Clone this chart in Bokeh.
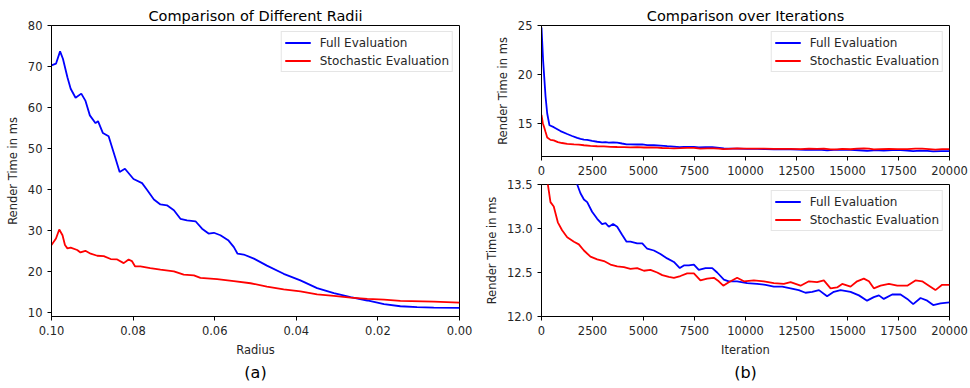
from bokeh.plotting import figure
from bokeh.models import Range1d, FixedTicker, PrintfTickFormatter, Title
from bokeh.layouts import row, column
from bokeh.embed import file_html
from bokeh.resources import INLINE

# ---------------- data ----------------
radius_full = [0.1000, 0.0989, 0.0979, 0.0972, 0.0961, 0.0953, 0.0941, 0.0927, 0.0917, 0.0906,
               0.0892, 0.0886, 0.0874, 0.0860, 0.0844, 0.0833, 0.0820, 0.0799, 0.0778, 0.0766,
               0.0749, 0.0733, 0.0717, 0.0700, 0.0684, 0.0668, 0.0647, 0.0631, 0.0615, 0.0602,
               0.0586, 0.0566, 0.0553, 0.0544, 0.0529, 0.0504, 0.0472, 0.0431, 0.0390, 0.0349,
               0.0308, 0.0267, 0.0226, 0.0185, 0.0145, 0.0104, 0.0063, 0.0]
time_radius_full = [70.3, 70.7, 73.7, 71.9, 67.4, 64.6, 62.4, 63.4, 61.7, 58.1,
                    56.2, 56.7, 53.8, 53.0, 47.9, 44.3, 45.1, 42.6, 41.6, 40.0,
                    37.6, 36.4, 36.2, 35.0, 32.9, 32.5, 32.3, 30.5, 29.3, 29.5,
                    28.9, 27.6, 26.0, 24.4, 24.2, 23.2, 21.5, 19.5, 17.9, 16.0,
                    14.8, 13.8, 13.0, 12.1, 11.6, 11.4, 11.25, 11.2]
radius_stoch = [0.1000, 0.0989, 0.0981, 0.0973, 0.0967, 0.0961, 0.0953, 0.0937, 0.0929, 0.0917,
                0.0904, 0.0888, 0.0872, 0.0855, 0.0839, 0.0823, 0.0811, 0.0803, 0.0795, 0.0782,
                0.0758, 0.0733, 0.0700, 0.0676, 0.0651, 0.0635, 0.0594, 0.0553, 0.0512, 0.0472,
                0.0431, 0.0390, 0.0349, 0.0308, 0.0267, 0.0226, 0.0185, 0.0145, 0.0063, 0.0]
time_radius_stoch = [26.5, 28.1, 30.3, 28.9, 26.5, 25.7, 25.9, 25.3, 24.7, 25.1,
                     24.4, 23.9, 23.8, 23.1, 23.0, 22.1, 23.0, 22.6, 21.3, 21.3,
                     20.9, 20.5, 20.1, 19.3, 19.1, 18.5, 18.2, 17.7, 17.2, 16.4,
                     15.7, 15.2, 14.5, 14.1, 13.7, 13.4, 13.2, 12.9, 12.7, 12.5]

iter_full = [0, 80, 200, 280, 390, 600, 930, 1260, 1500, 1750,
             1910, 2080, 2240, 2480, 2730, 2970, 3140, 3300, 3510, 3710,
             3950, 4170, 4360, 4690, 4940, 5180, 5510, 5830, 6160, 6490,
             6780, 6980, 7220, 7470, 7710, 8040, 8370, 8610, 8940, 9180,
             9590, 10080, 10570, 10980, 11390, 11800, 12210, 12610, 12940, 13270,
             13600, 14000, 14330, 14660, 15150, 15560, 15960, 16290, 16540, 16780,
             17190, 17600, 17930, 18220, 18580, 18910, 19200, 19560, 20000]
time_iter_full = [24.8, 21.4, 17.7, 16.0, 14.8, 14.6, 14.2, 13.9, 13.7, 13.5,
                  13.40, 13.33, 13.30, 13.19, 13.11, 13.05, 13.06, 13.02, 13.05, 13.02,
                  12.93, 12.85, 12.85, 12.83, 12.83, 12.77, 12.75, 12.71, 12.66, 12.62,
                  12.55, 12.58, 12.58, 12.59, 12.53, 12.55, 12.55, 12.50, 12.42, 12.40,
                  12.40, 12.38, 12.37, 12.36, 12.34, 12.34, 12.32, 12.30, 12.27, 12.28,
                  12.30, 12.23, 12.28, 12.30, 12.28, 12.24, 12.18, 12.22, 12.24, 12.20,
                  12.25, 12.25, 12.20, 12.14, 12.21, 12.18, 12.13, 12.15, 12.16]
iter_stoch = [0, 65, 130, 200, 280, 440, 600, 800, 1010, 1260,
              1590, 1830, 2080, 2400, 2730, 3060, 3380, 3710, 4040, 4360,
              4690, 5020, 5340, 5670, 5920, 6240, 6490, 6810, 7140, 7470,
              7790, 8120, 8450, 8690, 8910, 9180, 9590, 9920, 10410, 10900,
              11390, 11880, 12210, 12700, 13110, 13510, 13840, 14170, 14490, 14740,
              15150, 15470, 15800, 16050, 16290, 16620, 17030, 17440, 17930, 18330,
              18660, 18990, 19310, 19640, 20000]
time_iter_stoch = [15.85, 15.0, 14.6, 14.1, 13.55, 13.30, 13.25, 13.07, 12.98, 12.90,
                   12.85, 12.82, 12.75, 12.68, 12.65, 12.63, 12.59, 12.57, 12.56, 12.54,
                   12.55, 12.52, 12.53, 12.50, 12.47, 12.45, 12.44, 12.46, 12.49, 12.49,
                   12.41, 12.43, 12.44, 12.40, 12.35, 12.39, 12.44, 12.40, 12.41, 12.40,
                   12.38, 12.37, 12.39, 12.35, 12.40, 12.39, 12.41, 12.32, 12.33, 12.37,
                   12.34, 12.40, 12.43, 12.40, 12.32, 12.35, 12.37, 12.35, 12.35, 12.41,
                   12.40, 12.35, 12.30, 12.36, 12.36]

radius_ticks = [0.10, 0.08, 0.06, 0.04, 0.02, 0.00]
radius_time_ticks = [10, 20, 30, 40, 50, 60, 70, 80]
iter_ticks = [0, 2500, 5000, 7500, 10000, 12500, 15000, 17500, 20000]
top_time_ticks = [15, 20, 25]
bottom_time_ticks = [12.0, 12.5, 13.0, 13.5]

label_full = "Full Evaluation"
label_stoch = "Stochastic Evaluation"

FONT = "DejaVu Sans"
TXT = "#262626"
LW = 1.8


def style(p):
    p.outline_line_color = "black"
    p.outline_line_alpha = 1
    p.outline_line_width = 1
    p.grid.visible = False
    p.background_fill_color = "white"
    p.border_fill_color = "white"
    for ax in p.axis:
        ax.axis_line_color = "black"
        ax.major_tick_line_color = "black"
        ax.major_tick_out = 4
        ax.major_tick_in = 0
        ax.minor_tick_line_color = None
        ax.major_label_text_font = FONT
        ax.major_label_text_font_size = "11.5px"
        ax.major_label_text_color = TXT
        ax.major_label_standoff = 5
        ax.axis_label_text_font = FONT
        ax.axis_label_text_font_size = "11.5px"
        ax.axis_label_text_font_style = "normal"
        ax.axis_label_text_color = TXT
        ax.axis_label_standoff = 5


def style_legend(p):
    lg = p.legend[0]
    lg.location = "top_right"
    lg.margin = 6
    lg.padding = 3
    lg.spacing = 3
    lg.label_height = 15
    lg.glyph_height = 15
    lg.glyph_width = 26
    lg.label_standoff = 9
    lg.label_text_font = FONT
    lg.label_text_font_size = "12px"
    lg.label_text_color = TXT
    lg.border_line_color = "#cccccc"
    lg.border_line_width = 1
    lg.background_fill_alpha = 0.8


def set_title(p, text):
    p.title.text = text
    p.title.align = "center"
    p.title.text_font = FONT
    p.title.text_font_size = "14.5px"
    p.title.text_font_style = "normal"
    p.title.text_color = "black"
    p.title.standoff = 4
    p.title.offset = 0


def sub_caption(p, text):
    t = Title(text=text, align="center", text_font=FONT, text_font_size="16px",
              text_font_style="normal", text_color="black", standoff=3)
    p.add_layout(t, "below")


# ---------------- left panel ----------------
p1 = figure(width=480, height=386, output_backend="svg", toolbar_location=None,
            x_range=Range1d(0.10, 0.0), y_range=Range1d(9.1, 80),
            min_border_left=51, min_border_right=21, min_border_top=25, min_border_bottom=70)
p1.line(radius_full, time_radius_full, color="blue", line_width=LW, legend_label=label_full)
p1.line(radius_stoch, time_radius_stoch, color="red", line_width=LW, legend_label=label_stoch)
style(p1)
set_title(p1, "Comparison of Different Radii")
p1.xaxis.ticker = FixedTicker(ticks=radius_ticks)
p1.xaxis.formatter = PrintfTickFormatter(format="%.2f")
p1.yaxis.ticker = FixedTicker(ticks=radius_time_ticks)
p1.xaxis.axis_label = "Radius"
p1.yaxis.axis_label = "Render Time in ms"
style_legend(p1)
sub_caption(p1, "(a)")

# ---------------- right top ----------------
p2 = figure(width=488, height=177, output_backend="svg", toolbar_location=None,
            x_range=Range1d(0, 20000), y_range=Range1d(11.6, 25),
            min_border_left=61, min_border_right=19, min_border_top=25, min_border_bottom=20)
p2.line(iter_full, time_iter_full, color="blue", line_width=LW, legend_label=label_full)
p2.line(iter_stoch, time_iter_stoch, color="red", line_width=LW, legend_label=label_stoch)
style(p2)
set_title(p2, "Comparison over Iterations")
p2.xaxis.ticker = FixedTicker(ticks=iter_ticks)
p2.yaxis.ticker = FixedTicker(ticks=top_time_ticks)
p2.yaxis.axis_label = "Render Time in ms"
style_legend(p2)

# ---------------- right bottom ----------------
p3 = figure(width=488, height=209, output_backend="svg", toolbar_location=None,
            x_range=Range1d(0, 20000), y_range=Range1d(12.0, 13.5),
            min_border_left=61, min_border_right=19, min_border_top=7, min_border_bottom=70)
p3.line(iter_full, time_iter_full, color="blue", line_width=LW, legend_label=label_full)
p3.line(iter_stoch, time_iter_stoch, color="red", line_width=LW, legend_label=label_stoch)
style(p3)
p3.xaxis.ticker = FixedTicker(ticks=iter_ticks)
p3.yaxis.ticker = FixedTicker(ticks=bottom_time_ticks)
p3.yaxis.formatter = PrintfTickFormatter(format="%.1f")
p3.xaxis.axis_label = "Iteration"
p3.yaxis.axis_label = "Render Time in ms"
style_legend(p3)
sub_caption(p3, "(b)")

layout = row(p1, column(p2, p3, spacing=0), spacing=0)

open("out.html", "w").write(file_html(layout, INLINE))
